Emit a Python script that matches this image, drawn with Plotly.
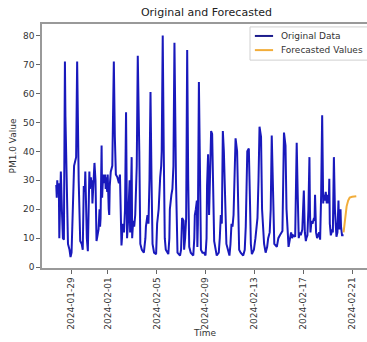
import pandas as pd
import plotly.graph_objects as go

# hours relative to 2024-01-29 00:00
orig_hours = [-29, -28, -27, -26, -24, -23, -21, -20, -18, -16, -14, -12, -11, -9, -6, -3, -1, 1, 3, 6,
              10, 12, 15, 18, 21, 23, 25, 27, 28, 29, 31, 33, 35, 36, 37, 39, 40, 41, 42, 44,
              46, 48, 49, 50, 52, 54, 56, 57, 58, 60, 61, 62, 63, 65, 67, 68, 69, 71, 72, 74,
              75, 76, 78, 81, 84, 86, 88, 91, 94, 96, 97, 99, 100, 101, 104, 106, 108, 109, 110, 112,
              115, 116, 118, 119, 120, 122, 124, 126, 129, 131, 134, 136, 139, 143, 146, 147, 150, 152, 154, 156,
              158, 160, 163, 167, 169, 172, 175, 177, 178, 180, 182, 184, 186, 191, 193, 194, 197, 199, 201, 203,
              206, 208, 209, 214, 216, 218, 221, 222, 224, 226, 228, 230, 232, 235, 240, 242, 243, 245, 247, 248,
              249, 251, 253, 255, 258, 261, 264, 266, 267, 269, 271, 273, 275, 277, 279, 281, 286, 290, 292, 294,
              296, 298, 300, 303, 305, 311, 313, 315, 317, 319, 321, 323, 326, 328, 330, 333, 338, 341, 343, 346,
              349, 351, 353, 355, 359, 362, 364, 366, 368, 370, 373, 375, 379, 382, 385, 387, 390, 392, 394, 397,
              399, 404, 407, 410, 413, 415, 418, 421, 423, 427, 430, 432, 434, 436, 440, 441, 443, 445, 447, 449,
              451, 454, 457, 459, 461, 462, 464, 466, 468, 469, 470, 472, 474, 477, 478, 479, 481, 483, 487, 489,
              491, 493, 494, 495, 496, 498, 500, 502, 504, 505, 506, 507, 508, 510, 511, 513, 514, 516, 518, 520,
              521, 523, 525, 526, 527, 529, 530, 532, 535]
orig_values = [28.4, 24, 30, 26, 29, 10, 26, 33, 20, 10, 9.5, 71, 52, 30, 8, 6, 3.5, 5, 20, 35,
               38, 71, 30, 9, 8, 6, 28, 26, 33, 20, 10, 5.5, 20, 33, 27, 31, 28, 30, 22, 30,
               36, 30, 15, 9, 11, 13, 20, 14, 17, 42, 24, 30, 32, 29, 32, 27, 31, 26, 32, 20,
               18, 28, 33, 35, 71, 45, 32, 31, 29, 32, 20, 7.5, 10, 15, 12, 20, 53.5, 25, 10, 16,
               30, 12, 28, 38, 10, 16, 14, 18, 35, 73, 40, 8, 6, 5, 10, 14, 18, 15, 30, 60.5,
               30, 8, 5, 4.5, 15, 20, 31, 35, 40, 80, 40, 10, 6, 4.5, 10, 20, 25, 27, 35, 77.5,
               30, 7, 5, 4, 6, 17, 16, 6, 10, 17, 75, 30, 7, 5, 4, 10, 18, 20, 23, 7,
               15, 64, 25, 6, 5, 5, 4, 10, 28, 39, 18, 30, 47, 46, 25, 9, 4, 5, 10, 18,
               15, 47, 40, 15, 8, 4, 8, 15, 14, 18, 30, 44.5, 40, 15, 6, 5, 4, 6, 14, 40,
               41, 25, 8, 4.5, 6, 10, 13, 17, 30, 48.5, 45, 20, 8, 5, 7, 10, 12, 20, 45.5, 20,
               8, 7, 10, 11, 12, 12.5, 46.5, 42, 20, 7, 10, 12, 10, 11, 10.5, 20, 43, 25, 10, 12,
               11, 13, 26.5, 12, 9, 10, 11, 20, 38, 20, 12, 16, 15, 17, 16, 25, 12, 10, 12, 9.5,
               25, 52.5, 30, 22, 25, 23, 26, 22, 25, 24, 22, 30.5, 15, 11, 12, 13, 12, 38, 20, 11,
               10.5, 12, 23, 15, 13, 20, 14, 11, 11]

fc_hours = [535, 538, 541, 544, 547, 552, 560]
fc_values = [12, 17, 21, 23, 24, 24.3, 24.5]

tick_labels = ["2024-01-29", "2024-02-01", "2024-02-05", "2024-02-09",
               "2024-02-13", "2024-02-17", "2024-02-21"]

series_names = ["Original Data", "Forecasted Values"]
series_colors = ["#1919bc", "#f2ad3a"]

base = pd.Timestamp("2024-01-29 00:00")
orig_time = base + pd.to_timedelta(orig_hours, unit="h")
fc_time = base + pd.to_timedelta(fc_hours, unit="h")

fig = go.Figure()
fig.add_trace(go.Scatter(x=orig_time, y=orig_values, mode="lines", name=series_names[0],
                         line=dict(color=series_colors[0], width=2), showlegend=False))
fig.add_trace(go.Scatter(x=fc_time, y=fc_values, mode="lines", name=series_names[1],
                         line=dict(color=series_colors[1], width=2), showlegend=False))

# legend drawn as a box with line samples and labels (paper coordinates)
shapes = [dict(type="rect", xref="paper", yref="paper", x0=0.64, x1=1.03, y0=0.852, y1=0.988,
               line=dict(color="#d0d0d0", width=1), fillcolor="rgba(255,255,255,0.9)", layer="above")]
annotations = []
for i, (nm, col) in enumerate(zip(series_names, series_colors)):
    yy = 0.951 - i * 0.058
    shapes.append(dict(type="line", xref="paper", yref="paper", x0=0.655, x1=0.711, y0=yy, y1=yy,
                       line=dict(color=col if i else "#1c1c8c", width=2), layer="above"))
    annotations.append(dict(text=nm, x=0.729, y=yy, xref="paper", yref="paper",
                            xanchor="left", yanchor="middle", showarrow=False,
                            font=dict(family="DejaVu Sans", size=9, color="#333")))
annotations.append(dict(text="Time", x=0.5, y=-0.266, xref="paper", yref="paper",
                        xanchor="center", yanchor="middle", showarrow=False,
                        font=dict(family="DejaVu Sans", size=9, color="#333")))

axis_font = dict(family="DejaVu Sans", size=9, color="#333")
fig.update_layout(
    width=367, height=342,
    margin=dict(l=42, r=0, t=24, b=74, autoexpand=False),
    paper_bgcolor="white", plot_bgcolor="white",
    font=dict(family="DejaVu Sans", size=9, color="#333"),
    title=dict(text="Original and Forecasted", x=0.5625, xanchor="center", y=0.975, yanchor="top",
               font=dict(family="DejaVu Sans", size=11, color="#222")),
    showlegend=False,
    shapes=shapes,
    annotations=annotations,
)
fig.update_xaxes(
    range=[pd.Timestamp("2024-01-26 15:00"), pd.Timestamp("2024-02-22 05:00")],
    tickvals=[pd.Timestamp(t) for t in tick_labels], ticktext=tick_labels,
    tickangle=-90, tickfont=axis_font, ticks="outside", ticklen=4, tickcolor="#666",
    showgrid=False, zeroline=False, showline=True, linecolor="#999", linewidth=1.5, mirror=True,
)
fig.update_yaxes(
    range=[-0.3, 84], tickvals=[0, 10, 20, 30, 40, 50, 60, 70, 80],
    tickfont=axis_font, ticks="outside", ticklen=4, tickcolor="#666",
    showgrid=False, zeroline=False, showline=True, linecolor="#999", linewidth=1.5,
    title=dict(text="PM1.0 Value", font=axis_font, standoff=5),
)

fig.write_html("out.html", config={"displayModeBar": False},
               post_script="document.body.style.margin='0';")
